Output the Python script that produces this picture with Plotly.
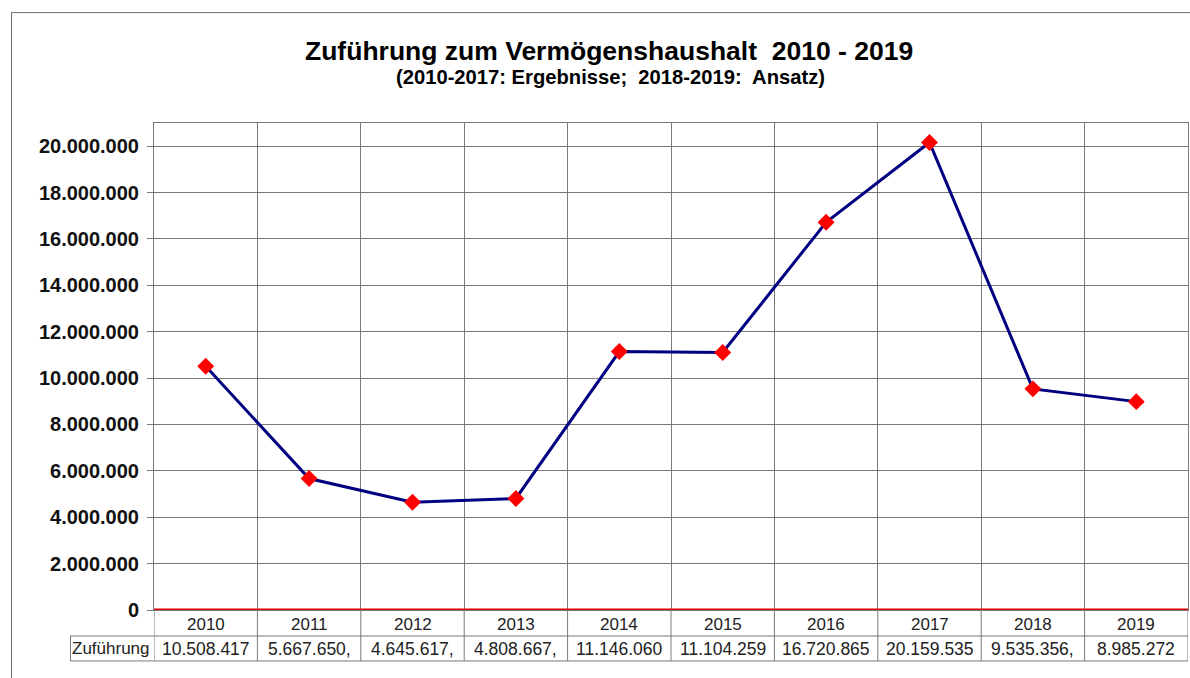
import plotly.graph_objects as go

years = ["2010", "2011", "2012", "2013", "2014", "2015", "2016", "2017", "2018", "2019"]
values = [10508417, 5667650, 4645617, 4808667, 11146060, 11104259, 16720865, 20159535, 9535356, 8985272]
table_labels = ["10.508.417", "5.667.650,", "4.645.617,", "4.808.667,", "11.146.060",
                "11.104.259", "16.720.865", "20.159.535", "9.535.356,", "8.985.272"]
series_name = "Zuführung"
title_text = "Zuführung zum Vermögenshaushalt&nbsp; 2010 - 2019"
subtitle_text = "(2010-2017: Ergebnisse;&nbsp; 2018-2019:&nbsp; Ansatz)"

W, H = 1190, 678
L, R, T, B = 154, 1188, 123, 610.5
pw, ph = R - L, B - T

def px(x):
    return (x - L) / pw

def py(y):
    return (B - y) / ph

FONT = "Arial, Liberation Sans, sans-serif"
GRID = "#7a7a7a"

xs = list(range(len(years)))
fig = go.Figure()
fig.add_trace(go.Scatter(
    x=xs, y=values, mode="lines+markers", name=series_name,
    line=dict(color="#000080", width=3),
    marker=dict(symbol="diamond", color="#ff0000", size=13, line=dict(width=0)),
    cliponaxis=False,
))

shapes = []
annotations = []
# zero line red
shapes.append(dict(type="line", xref="paper", yref="y", x0=0, x1=1, y0=0, y1=0,
                   line=dict(color="#e00000", width=3), layer="above"))
# table vertical lines
for i in range(len(years) + 1):
    shapes.append(dict(type="line", xref="x", yref="paper", x0=i - 0.5, x1=i - 0.5,
                       y0=py(610), y1=py(661.5), line=dict(color=GRID, width=1)))
# table horizontal lines
shapes.append(dict(type="line", xref="paper", yref="paper", x0=px(70), x1=1,
                   y0=py(636.5), y1=py(636.5), line=dict(color=GRID, width=1)))
shapes.append(dict(type="line", xref="paper", yref="paper", x0=px(70), x1=1,
                   y0=py(661.5), y1=py(661.5), line=dict(color=GRID, width=1)))
shapes.append(dict(type="line", xref="paper", yref="paper", x0=px(70.5), x1=px(70.5),
                   y0=py(636.5), y1=py(661.5), line=dict(color=GRID, width=1)))
# outer chart border (top and left)
shapes.append(dict(type="line", xref="paper", yref="paper", x0=px(11.5), x1=px(1192),
                   y0=py(12.5), y1=py(12.5), line=dict(color="#707070", width=1)))
shapes.append(dict(type="line", xref="paper", yref="paper", x0=px(11.5), x1=px(11.5),
                   y0=py(12), y1=py(690), line=dict(color="#707070", width=1)))

def ann(x, y, text, size, xref="paper", color="#222"):
    return dict(x=x, y=y, xref=xref, yref="paper", text=text, showarrow=False,
                xanchor="center", yanchor="middle",
                font=dict(family=FONT, size=size, color=color))

for i, (yr, lab) in enumerate(zip(years, table_labels)):
    annotations.append(ann(i, py(625), yr, 17, xref="x"))
    annotations.append(ann(i, py(649.5), lab, 17.5, xref="x"))
annotations.append(ann(px(111), py(649.5), series_name, 17))
# titles
annotations.append(ann(px(609), py(50.5), "<b>" + title_text + "</b>", 26.5, color="#000"))
annotations.append(ann(px(610.5), py(76.5), "<b>" + subtitle_text + "</b>", 20.2, color="#000"))

fig.update_layout(
    width=W, height=H,
    margin=dict(l=L, r=W - R, t=T, b=H - B, pad=0),
    paper_bgcolor="white", plot_bgcolor="white",
    separators=",.",
    showlegend=False,
    shapes=shapes, annotations=annotations,
    xaxis=dict(range=[-0.5, len(years) - 0.5], tickmode="linear", tick0=-0.5, dtick=1,
               showticklabels=False, showgrid=True, gridcolor=GRID, gridwidth=1,
               zeroline=False, showline=True, linecolor=GRID, mirror=True, ticks=""),
    yaxis=dict(range=[0, 21000000], tickmode="linear", tick0=0, dtick=2000000,
               tickformat=",d", showgrid=True, gridcolor=GRID, gridwidth=1,
               zeroline=False, showline=True, linecolor=GRID, mirror=True,
               ticks="outside", ticklen=6, tickcolor=GRID, ticklabelstandoff=4,
               tickfont=dict(family=FONT, size=20, color="#111", weight="bold")),
)

fig.write_html("out.html", config={"displayModeBar": False},
               post_script="document.body.style.margin='0';document.body.style.overflow='hidden';")
